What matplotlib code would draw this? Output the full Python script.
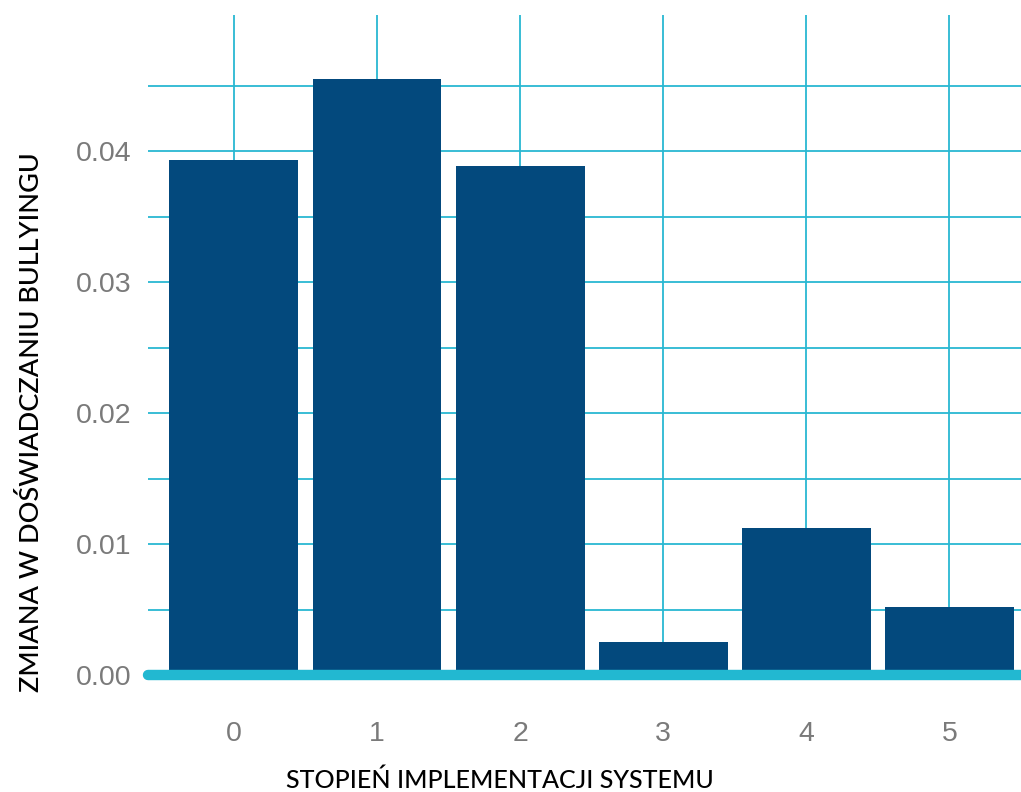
import matplotlib
matplotlib.use("Agg")
import matplotlib.pyplot as plt
import numpy as np

categories = ["0", "1", "2", "3", "4", "5"]
values = [0.0393, 0.0455, 0.0389, 0.0025, 0.0112, 0.0052]
y_ticks = [0.00, 0.01, 0.02, 0.03, 0.04]
y_tick_labels = ["0.00", "0.01", "0.02", "0.03", "0.04"]
x_label = "STOPIEŃ IMPLEMENTACJI SYSTEMU"
y_label = "ZMIANA W DOŚWIADCZANIU BULLYINGU"

BAR = "#03497d"
GRID = "#29b8d2"
BASE = "#22b8d1"
TICK = "#7a7a7a"

W, H = 1021, 792
fig = plt.figure(figsize=(W / 100, H / 100), dpi=100)
ax = fig.add_axes([148 / W, 117 / H, (W - 148) / W, (675 - 15) / H])

x = np.arange(len(categories))
ax.bar(x, values, width=0.9, color=BAR, zorder=2)

ax.set_xlim(-0.6, 5.5)
ax.set_ylim(0, 0.0504)

ax.set_yticks(y_ticks)
ax.set_yticklabels(y_tick_labels)
ax.set_yticks(np.arange(0.005, 0.05, 0.01), minor=True)
ax.set_xticks(x)
ax.set_xticklabels(categories)

ax.grid(True, which="both", axis="y", color=GRID, linewidth=1.3, zorder=0)
ax.grid(True, which="major", axis="x", color=GRID, linewidth=1.3, zorder=0)
ax.set_axisbelow(True)

for s in ax.spines.values():
    s.set_visible(False)

ax.tick_params(axis="both", which="both", length=0)
ax.tick_params(axis="y", pad=12, labelsize=20.5, labelcolor=TICK)
ax.tick_params(axis="x", pad=33, labelsize=20.5, labelcolor=TICK)
for lab in ax.get_xticklabels() + ax.get_yticklabels():
    lab.set_fontfamily("Liberation Sans")

ax.axhline(0, color=BASE, linewidth=7.5, solid_capstyle="round", zorder=3, clip_on=False)

fig.text(500 / W, 1 - 780 / H, x_label, ha="center", va="center",
         fontsize=18, family="Lato", color="#000000", weight="medium")
fig.text(32 / W, 1 - 422 / H, y_label, ha="center", va="center", rotation=90,
         fontsize=19.5, family="Lato", color="#000000", weight="medium")

fig.savefig("out.png", dpi=100)
